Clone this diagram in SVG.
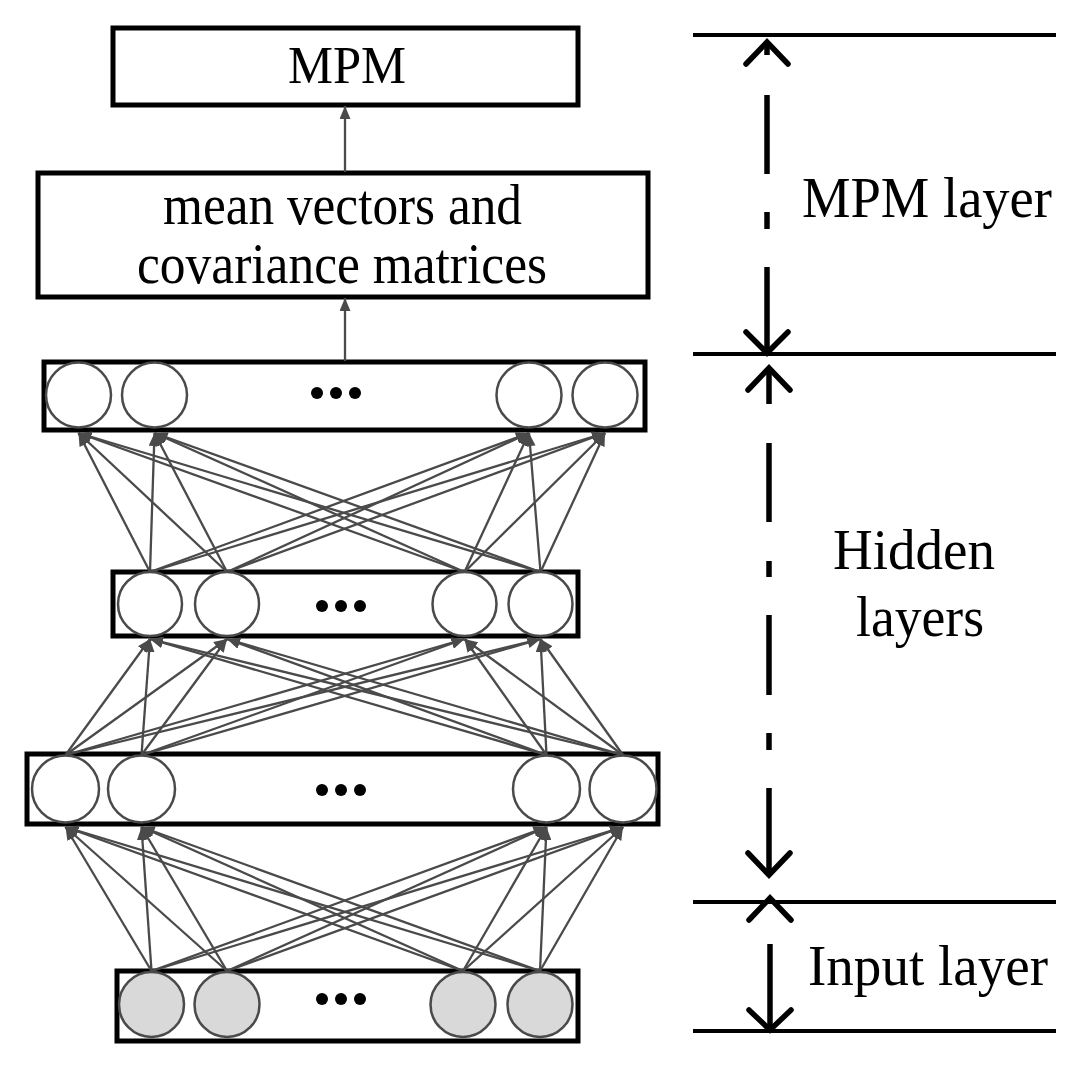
<svg xmlns="http://www.w3.org/2000/svg" width="1080" height="1087" viewBox="0 0 1080 1087">
<style>
.box{fill:#fff;stroke:#000;stroke-width:5}
.n{fill:#fff;stroke:#4a4a4a;stroke-width:2.5}
.ni{fill:#d9d9d9;stroke:#4a4a4a;stroke-width:2.5}
.dot{fill:#000}
.t{font-family:"Liberation Serif","Times New Roman",serif;fill:#000}
.c line{stroke:#4a4a4a;stroke-width:2.3;marker-end:url(#ah)}
.hl{stroke:#000;stroke-width:4}
.dim{stroke:#000;stroke-width:5.5;fill:none}
.head{stroke:#000;stroke-width:5.5;fill:none;stroke-linecap:round;stroke-linejoin:miter}
</style>
<defs>
<marker id="ah" viewBox="0 0 13 11" refX="13" refY="5.5" markerWidth="13" markerHeight="11" markerUnits="userSpaceOnUse" orient="auto">
<path d="M0,0 L13,5.5 L0,11 z" fill="#4a4a4a"/>
</marker>
</defs>
<rect width="1080" height="1087" fill="#fff"/>

<g id="mpm">
<rect class="box" x="113" y="28" width="465" height="77"/>
<text class="t" x="347" y="83" font-size="53" text-anchor="middle" textLength="118" lengthAdjust="spacingAndGlyphs">MPM</text>
</g>
<g id="stats">
<rect class="box" x="38" y="173" width="610" height="124"/>
<text class="t" x="342.5" y="224" font-size="58" text-anchor="middle" textLength="359" lengthAdjust="spacingAndGlyphs">mean vectors and</text>
<text class="t" x="342" y="283" font-size="58" text-anchor="middle" textLength="410" lengthAdjust="spacingAndGlyphs">covariance matrices</text>
</g>
<g id="hidden1">
<rect class="box" x="44" y="362" width="601" height="68"/>
<circle class="n" cx="78.5" cy="395" r="32.5"/>
<circle class="n" cx="154.5" cy="395" r="32.5"/>
<circle class="n" cx="529" cy="395" r="32.5"/>
<circle class="n" cx="605" cy="395" r="32.5"/>
<circle class="dot" cx="317" cy="393" r="6"/>
<circle class="dot" cx="336" cy="393" r="6"/>
<circle class="dot" cx="355" cy="393" r="6"/>
</g>
<g id="hidden2">
<rect class="box" x="113" y="572" width="465" height="64"/>
<circle class="n" cx="150" cy="604" r="32"/>
<circle class="n" cx="227" cy="604" r="32"/>
<circle class="n" cx="464.5" cy="604" r="32"/>
<circle class="n" cx="540.5" cy="604" r="32"/>
<circle class="dot" cx="322" cy="606" r="6"/>
<circle class="dot" cx="341" cy="606" r="6"/>
<circle class="dot" cx="360" cy="606" r="6"/>
</g>
<g id="hidden3">
<rect class="box" x="27" y="754" width="631" height="70"/>
<circle class="n" cx="65.5" cy="789" r="33.5"/>
<circle class="n" cx="141.5" cy="789" r="33.5"/>
<circle class="n" cx="546.5" cy="789" r="33.5"/>
<circle class="n" cx="623" cy="789" r="33.5"/>
<circle class="dot" cx="322" cy="790" r="6"/>
<circle class="dot" cx="341" cy="790" r="6"/>
<circle class="dot" cx="360" cy="790" r="6"/>
</g>
<g id="input">
<rect class="box" x="117" y="971" width="461" height="70"/>
<circle class="ni" cx="151.5" cy="1004.5" r="32.5"/>
<circle class="ni" cx="227" cy="1004.5" r="32.5"/>
<circle class="ni" cx="463" cy="1004.5" r="32.5"/>
<circle class="ni" cx="540" cy="1004.5" r="32.5"/>
<circle class="dot" cx="322" cy="999" r="6"/>
<circle class="dot" cx="341" cy="999" r="6"/>
<circle class="dot" cx="360" cy="999" r="6"/>
</g>

<g id="connectors" class="c">
<line x1="345" y1="361" x2="345" y2="298"/>
<line x1="345" y1="172" x2="345" y2="106"/>
<!-- hidden2 -> hidden1 -->
<line x1="150" y1="572" x2="78.5" y2="433"/>
<line x1="150" y1="572" x2="154.5" y2="433"/>
<line x1="150" y1="572" x2="529" y2="433"/>
<line x1="150" y1="572" x2="605" y2="433"/>
<line x1="227" y1="572" x2="78.5" y2="433"/>
<line x1="227" y1="572" x2="154.5" y2="433"/>
<line x1="227" y1="572" x2="529" y2="433"/>
<line x1="227" y1="572" x2="605" y2="433"/>
<line x1="464.5" y1="572" x2="78.5" y2="433"/>
<line x1="464.5" y1="572" x2="154.5" y2="433"/>
<line x1="464.5" y1="572" x2="529" y2="433"/>
<line x1="464.5" y1="572" x2="605" y2="433"/>
<line x1="540.5" y1="572" x2="78.5" y2="433"/>
<line x1="540.5" y1="572" x2="154.5" y2="433"/>
<line x1="540.5" y1="572" x2="529" y2="433"/>
<line x1="540.5" y1="572" x2="605" y2="433"/>
<!-- hidden3 -> hidden2 -->
<line x1="65.5" y1="755" x2="150" y2="639"/>
<line x1="65.5" y1="755" x2="227" y2="639"/>
<line x1="65.5" y1="755" x2="464.5" y2="639"/>
<line x1="65.5" y1="755" x2="540.5" y2="639"/>
<line x1="141.5" y1="755" x2="150" y2="639"/>
<line x1="141.5" y1="755" x2="227" y2="639"/>
<line x1="141.5" y1="755" x2="464.5" y2="639"/>
<line x1="141.5" y1="755" x2="540.5" y2="639"/>
<line x1="546.5" y1="755" x2="150" y2="639"/>
<line x1="546.5" y1="755" x2="227" y2="639"/>
<line x1="546.5" y1="755" x2="464.5" y2="639"/>
<line x1="546.5" y1="755" x2="540.5" y2="639"/>
<line x1="623" y1="755" x2="150" y2="639"/>
<line x1="623" y1="755" x2="227" y2="639"/>
<line x1="623" y1="755" x2="464.5" y2="639"/>
<line x1="623" y1="755" x2="540.5" y2="639"/>
<!-- input -> hidden3 -->
<line x1="151.5" y1="971" x2="65.5" y2="827"/>
<line x1="151.5" y1="971" x2="141.5" y2="827"/>
<line x1="151.5" y1="971" x2="546.5" y2="827"/>
<line x1="151.5" y1="971" x2="623" y2="827"/>
<line x1="227" y1="971" x2="65.5" y2="827"/>
<line x1="227" y1="971" x2="141.5" y2="827"/>
<line x1="227" y1="971" x2="546.5" y2="827"/>
<line x1="227" y1="971" x2="623" y2="827"/>
<line x1="463" y1="971" x2="65.5" y2="827"/>
<line x1="463" y1="971" x2="141.5" y2="827"/>
<line x1="463" y1="971" x2="546.5" y2="827"/>
<line x1="463" y1="971" x2="623" y2="827"/>
<line x1="540" y1="971" x2="65.5" y2="827"/>
<line x1="540" y1="971" x2="141.5" y2="827"/>
<line x1="540" y1="971" x2="546.5" y2="827"/>
<line x1="540" y1="971" x2="623" y2="827"/>
</g>

<g id="scale">
<line class="hl" x1="693" y1="35" x2="1056" y2="35"/>
<line class="hl" x1="693" y1="354" x2="1056" y2="354"/>
<line class="hl" x1="693" y1="902" x2="1056" y2="902"/>
<line class="hl" x1="693" y1="1031" x2="1056" y2="1031"/>
<!-- MPM layer span -->
<polyline class="head" points="746,64 767,42 788,64"/>
<line class="dim" x1="767" y1="43" x2="767" y2="55"/>
<line class="dim" x1="767" y1="95" x2="767" y2="174"/>
<line class="dim" x1="767" y1="212" x2="767" y2="229"/>
<line class="dim" x1="767" y1="267" x2="767" y2="352"/>
<polyline class="head" points="746,332 767,353 788,332"/>
<!-- Hidden layers span -->
<polyline class="head" points="748,390 769,368 790,390"/>
<line class="dim" x1="769" y1="369" x2="769" y2="404"/>
<line class="dim" x1="769" y1="443" x2="769" y2="522"/>
<line class="dim" x1="769" y1="561" x2="769" y2="577"/>
<line class="dim" x1="769" y1="615" x2="769" y2="695"/>
<line class="dim" x1="769" y1="733" x2="769" y2="750"/>
<line class="dim" x1="769" y1="788" x2="769" y2="874"/>
<polyline class="head" points="748,853 769,875 790,853"/>
<!-- Input layer span -->
<polyline class="head" points="749,920 770,898 791,920"/>
<line class="dim" x1="770" y1="944" x2="770" y2="1029"/>
<polyline class="head" points="749,1010 770,1030 791,1010"/>
<text class="t" x="802" y="217" font-size="57" textLength="250" lengthAdjust="spacingAndGlyphs">MPM layer</text>
<text class="t" x="833" y="569" font-size="57" textLength="162" lengthAdjust="spacingAndGlyphs">Hidden</text>
<text class="t" x="856" y="636" font-size="57" textLength="128" lengthAdjust="spacingAndGlyphs">layers</text>
<text class="t" x="808" y="985" font-size="57" textLength="240" lengthAdjust="spacingAndGlyphs">Input layer</text>
</g>
</svg>
